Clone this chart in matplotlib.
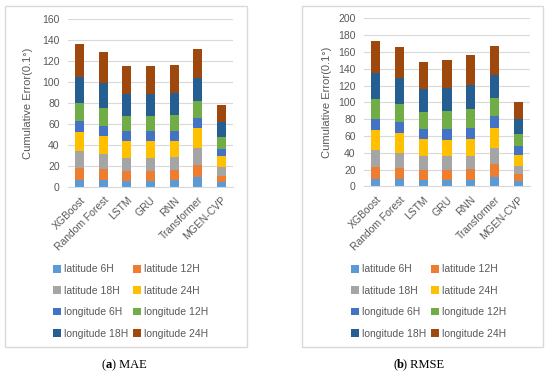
"""Stacked cumulative error bars, MAE and RMSE."""
import matplotlib
matplotlib.use("Agg")
import numpy as np
from matplotlib import pyplot as plt
from matplotlib.patches import Rectangle

plt.rcParams["font.family"] = ["Liberation Sans", "DejaVu Sans"]

models = ["XGBoost", "Random Forest", "LSTM", "GRU", "RNN", "Transformer", "MGEN-CVP"]
series = ["latitude 6H", "latitude 12H", "latitude 18H", "latitude 24H",
          "longitude 6H", "longitude 12H", "longitude 18H", "longitude 24H"]
colors = ["#5B9BD5", "#ED7D31", "#A5A5A5", "#FFC000",
          "#4472C4", "#70AD47", "#255E91", "#9E480E"]

# MAE per model (rows) and horizon (cols)
mae = np.array([
    [6.4, 11.1, 16.3, 18.8, 10.2, 17.2, 24.9, 31.5],
    [6.4, 10.2, 14.6, 17.6, 9.5, 16.9, 23.6, 30.3],
    [5.7, 9.3, 12.7, 15.6, 9.6, 14.7, 21.0, 26.5],
    [5.7, 9.3, 12.7, 15.6, 9.6, 15.0, 20.7, 26.8],
    [6.4, 9.5, 12.1, 15.7, 9.8, 15.0, 20.7, 26.8],
    [8.9, 12.1, 16.3, 18.8, 9.9, 15.9, 21.7, 27.7],
    [4.5, 6.0, 8.6, 10.2, 7.0, 11.2, 14.0, 16.6],
])

rmse = np.array([
    [8.3, 14.3, 21.1, 23.8, 13.1, 23.0, 30.9, 38.9],
    [8.3, 13.9, 17.9, 23.0, 13.1, 22.2, 30.6, 37.3],
    [7.5, 12.3, 16.7, 19.5, 12.7, 19.8, 27.0, 32.9],
    [7.5, 12.3, 15.9, 19.5, 13.1, 21.0, 27.8, 33.7],
    [7.9, 12.3, 15.9, 19.9, 13.4, 22.3, 28.5, 36.1],
    [10.7, 15.9, 19.4, 23.8, 13.9, 21.5, 27.7, 33.8],
    [6.0, 8.3, 10.3, 12.7, 10.7, 13.9, 17.9, 20.2],
])

W, H = 550, 374
fig = plt.figure(figsize=(W / 100, H / 100), dpi=100)


def fx(px):
    return px / W


def fy(py):
    return 1 - py / H


def panel(data, ymax, ystep, ax_px, box_px, ylab_x, leg_px, caption, cap_x, letter):
    x0, x1, ytop, ybot = ax_px
    ax = fig.add_axes([fx(x0), fy(ybot), fx(x1 - x0), (ybot - ytop) / H])
    x = np.arange(len(models))
    bottom = np.zeros(len(models))
    handles = []
    for j, name in enumerate(series):
        h = ax.bar(x, data[:, j], 0.38, bottom=bottom, color=colors[j], label=name, zorder=2)
        handles.append(h)
        bottom += data[:, j]
    ax.set_xlim(-0.5, len(models) - 0.5)
    ax.set_ylim(0, ymax)
    ax.set_yticks(np.arange(0, ymax + 1, ystep))
    ax.grid(axis="y", color="#d9d9d9", linewidth=0.8, zorder=0)
    for s in ["top", "right", "left"]:
        ax.spines[s].set_visible(False)
    ax.spines["bottom"].set_color("#d9d9d9")
    ax.tick_params(length=0, labelsize=7.5, colors="#595959", pad=6)
    ax.set_xticks(x)
    ax.set_xticklabels(models, rotation=45, ha="right", rotation_mode="anchor")
    fig.text(fx(ylab_x), fy((ytop + ybot) / 2), "Cumulative Error(0.1°)", rotation=90,
             ha="center", va="center", fontsize=8, color="#595959")

    # reorder so the two-column legend reads row by row
    order = [0, 2, 4, 6, 1, 3, 5, 7]
    fig.legend([handles[i] for i in order], [series[i] for i in order], ncol=2,
               loc="upper left", bbox_to_anchor=(fx(leg_px[0]), fy(leg_px[1])),
               frameon=False, fontsize=7.5, handlelength=0.75, handleheight=0.75,
               handletextpad=0.3, labelspacing=1.09, columnspacing=0.45,
               borderpad=0, borderaxespad=0, labelcolor="#595959")

    bx0, by0, bx1, by1 = box_px
    fig.patches.append(Rectangle((fx(bx0), fy(by1)), fx(bx1 - bx0), (by1 - by0) / H,
                                 transform=fig.transFigure, fill=False,
                                 edgecolor="#d9d9d9", linewidth=1))
    fig.text(fx(cap_x), fy(365), "(", ha="right", va="center", fontsize=9,
             family="Liberation Serif")
    fig.text(fx(cap_x), fy(365), letter, ha="left", va="center", fontsize=9,
             family="Liberation Serif", fontweight="bold")
    fig.text(fx(cap_x + 6), fy(365), ") " + caption, ha="left", va="center",
             fontsize=9, family="Liberation Serif")


panel(mae, 160, 20, (68, 233, 19.3, 186.7), (5, 6, 247, 347), 28, (53, 264.5),
      "MAE", 106, "a")
panel(rmse, 200, 20, (364, 530, 18.3, 186.3), (302, 6, 543, 347), 327, (351, 264.5),
      "RMSE", 397, "b")

fig.savefig("out.png", dpi=100)
